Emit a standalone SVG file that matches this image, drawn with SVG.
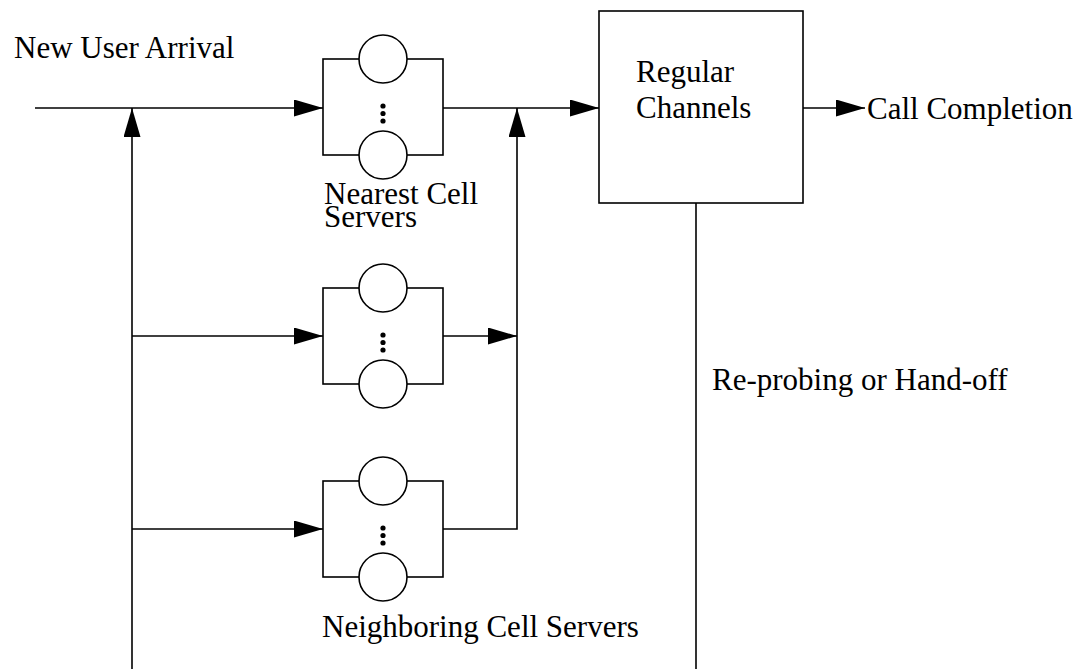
<svg xmlns="http://www.w3.org/2000/svg" width="1081" height="669" viewBox="0 0 1081 669">
<style>
.ln{stroke:#000;stroke-width:1.6;fill:none}
.bx{stroke:#000;stroke-width:1.6;fill:#fff}
.sv{stroke:#000;stroke-width:1.6;fill:#fff}
.dot{fill:#000}
text{font-family:"Liberation Serif","Times New Roman",serif;font-size:31px;fill:#000}
</style>
<defs>
<marker id="ah" viewBox="0 0 29 17" markerWidth="29" markerHeight="17" refX="29" refY="8.5" orient="auto" markerUnits="userSpaceOnUse">
<path d="M0,0 L29,8.5 L0,17 z" fill="#000"/>
</marker>
<g id="srv">
<rect class="bx" x="0" y="0" width="120" height="96"/>
<circle class="sv" cx="60" cy="0" r="24"/>
<circle class="sv" cx="60" cy="96" r="24"/>
<circle class="dot" cx="60" cy="47" r="2.6"/>
<circle class="dot" cx="60" cy="54.5" r="2.6"/>
<circle class="dot" cx="60" cy="62" r="2.6"/>
</g>
</defs>
<g id="connectors">
<line class="ln" x1="35" y1="108" x2="323" y2="108" marker-end="url(#ah)"/>
<line class="ln" x1="443" y1="108" x2="599" y2="108" marker-end="url(#ah)"/>
<line class="ln" x1="132" y1="669" x2="132" y2="108" marker-end="url(#ah)"/>
<line class="ln" x1="132" y1="336" x2="323" y2="336" marker-end="url(#ah)"/>
<line class="ln" x1="132" y1="529" x2="323" y2="529" marker-end="url(#ah)"/>
<line class="ln" x1="443" y1="336" x2="517" y2="336" marker-end="url(#ah)"/>
<polyline class="ln" points="443,529 517,529 517,108" marker-end="url(#ah)"/>
<line class="ln" x1="803" y1="108" x2="865" y2="108" marker-end="url(#ah)"/>
<line class="ln" x1="696" y1="203" x2="696" y2="669"/>
</g>
<g id="nearest">
<use href="#srv" x="323" y="59"/>
<text x="324" y="204">Nearest Cell</text>
<text x="324" y="227">Servers</text>
</g>
<g id="neighbor1">
<use href="#srv" x="323" y="288"/>
</g>
<g id="neighbor2">
<use href="#srv" x="323" y="481"/>
<text x="322" y="637">Neighboring Cell Servers</text>
</g>
<g id="regular">
<rect class="bx" x="599" y="11" width="204" height="192"/>
<text x="636" y="82">Regular</text>
<text x="636" y="118">Channels</text>
</g>
<g id="labels">
<text x="14" y="58">New User Arrival</text>
<text x="867" y="119">Call Completion</text>
<text x="712" y="390">Re-probing or Hand-off</text>
</g>
</svg>
